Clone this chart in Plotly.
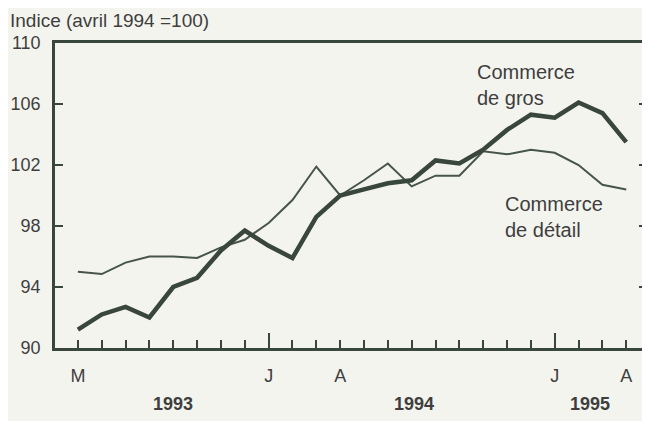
import plotly.graph_objects as go

months = ["1993-05", "1993-06", "1993-07", "1993-08", "1993-09", "1993-10", "1993-11", "1993-12",
          "1994-01", "1994-02", "1994-03", "1994-04", "1994-05", "1994-06", "1994-07", "1994-08",
          "1994-09", "1994-10", "1994-11", "1994-12", "1995-01", "1995-02", "1995-03", "1995-04"]
gros = [91.2, 92.2, 92.7, 92.0, 94.0, 94.6, 96.4, 97.7, 96.7, 95.9, 98.6, 100.0,
        100.4, 100.8, 101.0, 102.3, 102.1, 103.0, 104.3, 105.3, 105.1, 106.1, 105.4, 103.5]
detail = [95.0, 94.85, 95.6, 96.0, 96.0, 95.9, 96.6, 97.1, 98.2, 99.7, 101.9, 100.0,
          101.0, 102.1, 100.6, 101.3, 101.3, 102.9, 102.7, 103.0, 102.8, 102.0, 100.7, 100.4]
month_labels = ["M", "", "", "", "", "", "", "", "J", "", "", "A",
                "", "", "", "", "", "", "", "", "J", "", "", "A"]
year_labels = ["1993", "1994", "1995"]
year_pos = [4.0, 14.1, 21.5]
year_ticks = [8, 20]
y_ticks = [90, 94, 98, 102, 106, 110]

idx = list(range(len(months)))
line_col = "#38463b"
text_col = "#3e3e3e"
bg = "#f4f4ee"
font = "Liberation Sans, Arial, sans-serif"
xr = [-0.96, 23.87]

fig = go.Figure()
fig.add_trace(go.Scatter(x=idx, y=detail, mode="lines",
                         line=dict(color="#46544a", width=2), showlegend=False))
fig.add_trace(go.Scatter(x=idx, y=gros, mode="lines",
                         line=dict(color=line_col, width=4.5), showlegend=False))
fig.add_trace(go.Scatter(x=[year_ticks[0]], y=[90], xaxis="x2", mode="markers",
                         marker=dict(opacity=0), showlegend=False, hoverinfo="skip"))

fig.update_layout(
    width=642, height=413,
    margin=dict(l=47, r=0, t=35, b=73),
    paper_bgcolor=bg, plot_bgcolor=bg,
    font=dict(family=font, size=18, color=text_col),
    xaxis=dict(range=xr, tickmode="array", tickvals=idx, ticktext=month_labels,
               ticks="inside", ticklen=8, tickwidth=1.5, tickcolor=line_col,
               showline=True, linecolor=line_col, linewidth=2.5, mirror=True,
               showgrid=False, zeroline=False, ticklabelstandoff=10,
               tickfont=dict(size=18, color=text_col)),
    xaxis2=dict(range=xr, overlaying="x", anchor="y", side="bottom",
                tickmode="array", tickvals=year_ticks, ticks="inside", ticklen=15,
                tickwidth=2, tickcolor=line_col, showticklabels=False,
                showline=False, showgrid=False, zeroline=False),
    yaxis=dict(range=[90, 110], tickmode="array", tickvals=y_ticks,
               ticks="inside", ticklen=8, tickwidth=2, tickcolor=line_col,
               showline=True, linecolor=line_col, linewidth=2.5, mirror="ticks",
               showgrid=False, zeroline=False, ticklabelstandoff=8,
               tickfont=dict(size=18, color=text_col)),
)

for yl, yp in zip(year_labels, year_pos):
    fig.add_annotation(x=yp, xref="x", y=-0.185, yref="paper", text="<b>" + yl + "</b>",
                       showarrow=False, xanchor="center", yanchor="middle",
                       font=dict(size=18, color=text_col))

fig.add_annotation(x=-0.079, xref="paper", y=1.075, yref="paper",
                   text="Indice (avril 1994 =100)", showarrow=False,
                   xanchor="left", yanchor="middle", font=dict(size=19, color=text_col))
fig.add_annotation(x=16.65, xref="x", y=107.25, yref="y", text="Commerce<br>de gros",
                   showarrow=False, xanchor="left", yanchor="middle", align="left",
                   font=dict(size=20, color=text_col))
fig.add_annotation(x=17.82, xref="x", y=98.6, yref="y", text="Commerce<br>de détail",
                   showarrow=False, xanchor="left", yanchor="middle", align="left",
                   font=dict(size=20, color=text_col))

fig.write_html("out.html")
